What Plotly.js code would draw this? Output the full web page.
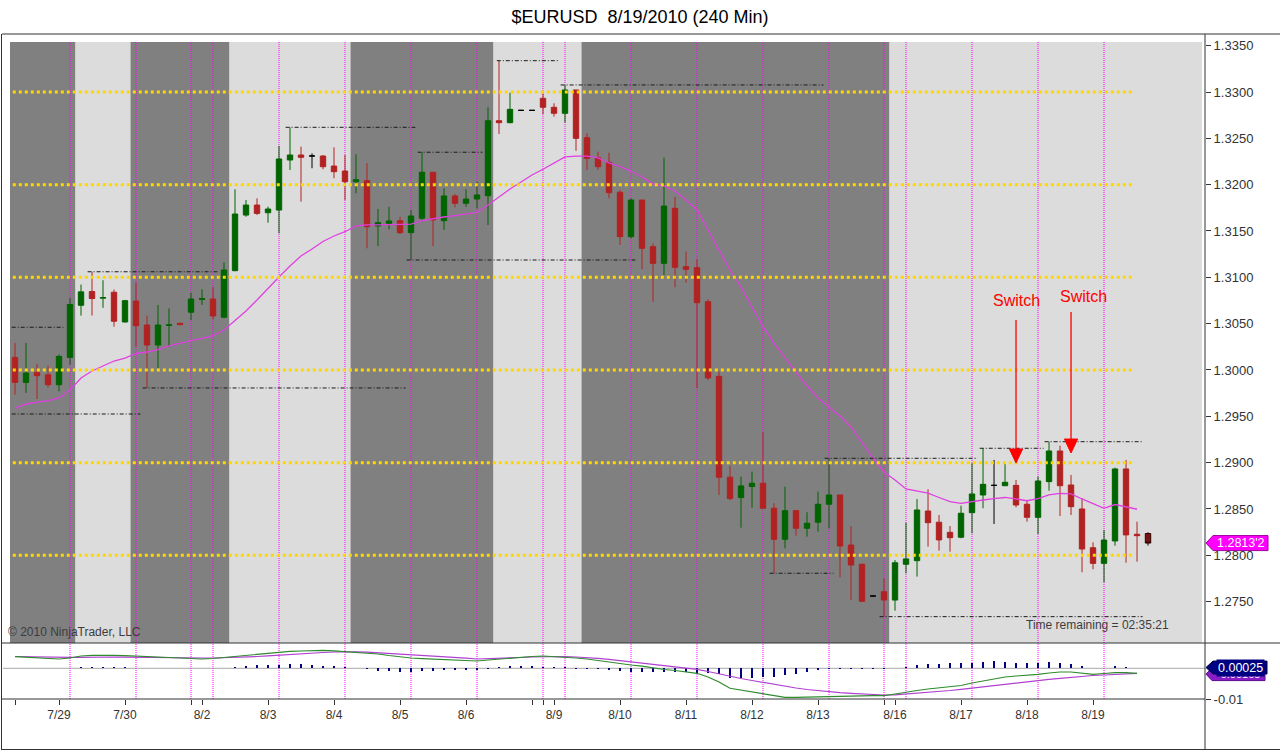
<!DOCTYPE html>
<html><head><meta charset="utf-8">
<script src="https://cdn.plot.ly/plotly-3.0.1.min.js"></script>
<style>html,body{margin:0;padding:0;background:#fff}#chart{width:1280px;height:751px}</style>
</head><body><div id="chart"></div>
<script>
// ---------------- DATA ----------------
const open  = [1.30136,1.29866,1.29974,1.29949,1.29841,1.30136,1.30698,1.30847,1.30775,1.30839,
1.30518,1.30744,1.30485,1.30269,1.30480,1.30504,1.30623,1.30762,1.30766,1.30569,
1.31072,1.31672,1.31780,1.31697,1.31726,1.32266,1.32320,1.32310,1.32309,1.32201,
1.32147,1.32032,1.32043,1.31554,1.31583,1.31611,1.31482,1.31637,1.32134,1.31611,
1.31878,1.31799,1.31845,1.31881,1.32690,1.32669,1.32802,1.32802,1.32932,1.32835,
1.32770,1.33022,1.32507,1.32291,1.32241,1.31918,1.31439,1.31834,1.31331,1.31151,
1.31745,1.31115,1.31104,1.30737,1.29931,1.28843,1.28623,1.28742,1.28778,1.28508,
1.28173,1.28482,1.28292,1.28357,1.28551,1.28651,1.28111,1.27903,1.27561,1.27607,
1.27517,1.27903,1.27942,1.28478,1.28357,1.28248,1.28195,1.28460,1.28651,1.28755,
1.28751,1.28755,1.28551,1.28410,1.28795,1.29126,1.28759,1.28500,1.28082,1.27913,
1.28155,1.28932,1.28227,1.28235];
const high  = [1.30292,1.30292,1.30065,1.30046,1.30166,1.30778,1.30922,1.31060,1.30969,1.30868,
1.30756,1.30940,1.30587,1.30701,1.30665,1.30507,1.30834,1.30871,1.30893,1.31162,
1.31950,1.31834,1.31853,1.31762,1.32417,1.32619,1.32410,1.32338,1.32320,1.32403,
1.32320,1.32328,1.32231,1.31737,1.31762,1.31654,1.31726,1.32350,1.32134,1.31961,
1.31900,1.31950,1.32032,1.32835,1.33338,1.32992,1.32802,1.32802,1.32986,1.32878,
1.33076,1.33022,1.32554,1.32356,1.32345,1.31943,1.31853,1.31834,1.31367,1.32291,
1.31870,1.31277,1.31195,1.30763,1.29985,1.28965,1.28850,1.28903,1.29328,1.28562,
1.28741,1.28482,1.28465,1.28687,1.29047,1.28651,1.28316,1.27910,1.27561,1.27752,
1.27949,1.28352,1.28608,1.28712,1.28435,1.28316,1.28536,1.28995,1.29155,1.29029,
1.28986,1.28813,1.28590,1.28849,1.29226,1.29183,1.28867,1.28615,1.28141,1.28273,
1.28946,1.29029,1.28363,1.28249];
const low   = [1.29733,1.29752,1.29687,1.29812,1.29769,1.30057,1.30587,1.30587,1.30670,1.30467,
1.30511,1.30252,1.29806,1.30022,1.30252,1.30486,1.30539,1.30701,1.30547,1.30558,
1.31065,1.31654,1.31672,1.31589,1.31475,1.32158,1.31816,1.32177,1.32166,1.32069,
1.31834,1.31907,1.31313,1.31338,1.31518,1.31468,1.31187,1.31619,1.31338,1.31511,
1.31756,1.31762,1.31744,1.31565,1.32547,1.32662,1.32802,1.32802,1.32763,1.32734,
1.32669,1.32366,1.32158,1.32158,1.31853,1.31349,1.31421,1.31087,1.30737,1.31025,
1.30893,1.30942,1.29806,1.29892,1.28651,1.28597,1.28298,1.28514,1.28508,1.27806,
1.28075,1.28212,1.28201,1.28255,1.28292,1.27762,1.27517,1.27496,1.27561,1.27338,
1.27402,1.27806,1.27770,1.28093,1.28050,1.28039,1.28184,1.28238,1.28508,1.28338,
1.28751,1.28518,1.28363,1.28230,1.28697,1.28424,1.28435,1.27817,1.27849,1.27709,
1.28104,1.27920,1.27931,1.28104];
const close = [1.29866,1.29968,1.29938,1.29841,1.30147,1.30706,1.30843,1.30771,1.30782,1.30526,
1.30748,1.30478,1.30269,1.30485,1.30487,1.30489,1.30766,1.30770,1.30583,1.31079,
1.31683,1.31780,1.31690,1.31737,1.32277,1.32320,1.32295,1.32310,1.32194,1.32140,
1.32032,1.32054,1.31546,1.31590,1.31608,1.31482,1.31662,1.32134,1.31619,1.31878,
1.31799,1.31845,1.31889,1.32690,1.32669,1.32813,1.32802,1.32802,1.32835,1.32770,
1.33022,1.32500,1.32284,1.32194,1.31913,1.31439,1.31834,1.31313,1.31151,1.31769,
1.31108,1.31087,1.30726,1.29914,1.28843,1.28612,1.28749,1.28778,1.28508,1.28173,
1.28482,1.28292,1.28346,1.28551,1.28651,1.28100,1.27895,1.27504,1.27561,1.27517,
1.27920,1.27961,1.28489,1.28352,1.28166,1.28190,1.28454,1.28662,1.28766,1.28755,
1.28788,1.28543,1.28410,1.28802,1.29126,1.28751,1.28525,1.28068,1.27913,1.28165,
1.28932,1.28220,1.28212,1.28132];
// moving average (magenta)
const movAvg = [1.29586,1.29633,1.29654,1.29669,1.29698,1.29784,1.29913,1.29989,1.30043,1.30097,
1.30129,1.30178,1.30194,1.30221,1.30259,1.30291,1.30318,1.30340,1.30367,1.30432,
1.30539,1.30637,1.30755,1.30885,1.31003,1.31122,1.31230,1.31306,1.31387,1.31446,
1.31492,1.31554,1.31565,1.31565,1.31570,1.31570,1.31575,1.31613,1.31635,1.31651,
1.31667,1.31683,1.31700,1.31780,1.31867,1.31953,1.32029,1.32104,1.32166,1.32234,
1.32299,1.32309,1.32309,1.32288,1.32234,1.32194,1.32147,1.32083,1.32007,1.31986,
1.31932,1.31834,1.31727,1.31511,1.31295,1.31079,1.30896,1.30680,1.30467,1.30291,
1.30129,1.29978,1.29827,1.29698,1.29600,1.29503,1.29385,1.29212,1.29050,1.28899,
1.28813,1.28716,1.28694,1.28672,1.28624,1.28579,1.28561,1.28575,1.28597,1.28611,
1.28624,1.28608,1.28589,1.28611,1.28651,1.28669,1.28662,1.28608,1.28554,1.28507,
1.28548,1.28521,1.28497];
// lower panel
const macdLine = [0.00378,0.00358,0.00335,0.00319,0.00303,0.00335,0.00401,0.00423,0.00433,0.00423,
0.00410,0.00401,0.00391,0.00368,0.00352,0.00335,0.00319,0.00303,0.00319,0.00352,
0.00401,0.00433,0.00466,0.00498,0.00531,0.00554,0.00563,0.00576,0.00586,0.00570,
0.00547,0.00521,0.00498,0.00466,0.00417,0.00368,0.00335,0.00316,0.00296,0.00280,
0.00264,0.00251,0.00238,0.00270,0.00303,0.00335,0.00358,0.00384,0.00401,0.00384,
0.00358,0.00335,0.00303,0.00254,0.00195,0.00140,0.00107,0.00068,0.00010,-0.00039,
-0.00072,-0.00121,-0.00163,-0.00283,-0.00446,-0.00651,-0.00707,-0.00772,-0.00814,-0.00886,
-0.00945,-0.00945,-0.00935,-0.00918,-0.00902,-0.00902,-0.00902,-0.00896,-0.00892,-0.00892,
-0.00837,-0.00772,-0.00723,-0.00674,-0.00642,-0.00609,-0.00560,-0.00479,-0.00414,-0.00332,
-0.00283,-0.00251,-0.00235,-0.00195,-0.00153,-0.00121,-0.00121,-0.00169,-0.00195,-0.00169,
-0.00143,-0.00143,-0.00163];
const signalLine = [0.00384,0.00375,0.00368,0.00362,0.00358,0.00355,0.00358,0.00365,0.00368,0.00368,
0.00362,0.00355,0.00349,0.00342,0.00335,0.00335,0.00335,0.00335,0.00335,0.00342,
0.00352,0.00368,0.00384,0.00407,0.00433,0.00456,0.00482,0.00498,0.00515,0.00531,
0.00541,0.00537,0.00524,0.00505,0.00482,0.00459,0.00433,0.00414,0.00394,0.00375,
0.00352,0.00329,0.00303,0.00309,0.00322,0.00335,0.00352,0.00368,0.00381,0.00388,
0.00384,0.00368,0.00352,0.00326,0.00293,0.00254,0.00221,0.00182,0.00140,0.00091,
0.00049,0.00003,-0.00033,-0.00104,-0.00186,-0.00267,-0.00332,-0.00397,-0.00462,-0.00528,
-0.00593,-0.00642,-0.00690,-0.00733,-0.00772,-0.00795,-0.00814,-0.00837,-0.00853,-0.00870,
-0.00863,-0.00837,-0.00814,-0.00788,-0.00756,-0.00723,-0.00684,-0.00642,-0.00599,-0.00560,
-0.00511,-0.00469,-0.00430,-0.00391,-0.00358,-0.00326,-0.00293,-0.00261,-0.00235,-0.00218,
-0.00195,-0.00179,-0.00163];
const histo = [0.0002,0.0002,0.0002,0.0002,0.0002,0.0002,0.0003,0.0003,0.0003,0.0003,
0.0003,0.0001,0.0002,0.0002,0.0002,0.0002,0.0002,0.0002,0.0002,0.0002,
0.00033,0.00076,0.00098,0.00098,0.00109,0.0013,0.0013,0.00109,0.00076,0.00065,
0.00033,0.0001,-0.00033,-0.00076,-0.00076,-0.00109,-0.0012,-0.00098,-0.00076,-0.00054,
-0.00054,-0.00043,-0.00043,-0.0001,0.00033,0.00065,0.00065,0.00076,0.00054,0.00033,
0.00054,-0.0001,-0.00033,-0.00033,-0.00054,-0.00098,-0.0012,-0.00109,-0.00109,-0.00109,
-0.00109,-0.0013,-0.00141,-0.00163,-0.00196,-0.00304,-0.00326,-0.00304,-0.00293,-0.00272,
-0.00217,-0.00196,-0.0013,-0.00054,-0.00033,-0.00022,-0.00022,-0.00022,-0.00011,-0.00011,
0.0001,0.00043,0.00098,0.0013,0.00152,0.00163,0.00163,0.00185,0.00217,0.00228,
0.00217,0.00185,0.00163,0.00163,0.00196,0.00163,0.0013,0.00076,0.00022,0.00022,
0.00076,0.00033,0.00025];
// x-axis ticks (bar positions) and their labels
const tickPos = [0,4,10,16,17,23,29,35,41,47,48,49,55,61,67,73,79,80,86,92,98];
const tickLab = ['','7/29','7/30','','8/2','8/3','8/4','8/5','8/6','','','8/9','8/10','8/11','8/12','8/13','','8/16','8/17','8/18','8/19'];
const priceTicks = [1.2750,1.2800,1.2850,1.2900,1.2950,1.3000,1.3050,1.3100,1.3150,1.3200,1.3250,1.3300,1.3350];
// session separators (bar positions)
const sessionBars = [5,11,16,18,24,30,36,42,48,50,56,62,68,74,79,81,87,93,99];
// background bands
const bandEdges = [-0.46,5.5,10.5,19.5,30.5,43.5,51.5,79.5,107.9];
const bandDark  = [1,0,1,0,1,0,1,0];
// round-number levels (yellow)
const levels = [1.28,1.29,1.30,1.31,1.32,1.33];
const levelSpan = [-0.2,101.8];
// swing high/low lines
const swingStart = [6.6,-0.3,-0.3,11.6,24.6,35.6,36.6,43.8,49.6,68.6,73.6,87.7,93.6,78.6];
const swingEnd   = [18.4,4.4,11.4,35.5,36.4,56.4,42.5,49.5,73.5,74.4,87.5,93.5,102.5,102.5];
const swingPrice = [1.31060,1.30461,1.29525,1.29806,1.32619,1.31187,1.32350,1.33338,1.33076,1.27806,1.29047,1.29155,1.29226,1.27338];
// "Switch" arrows
const switchBar   = [91,96];
const switchTextX = [91,97.1];
const switchTextY = [1.30755,1.30788];
const arrowTop    = [1.30539,1.30626];
const arrowBase   = [1.29147,1.29255];
const arrowTip    = [1.28996,1.29104];
// right-axis markers
const lastPriceLabel = "1.2813'2";
const histLabel = '0.00025', histLabelVal = 0.00025;
const macdLabel = '-0.00165', macdLabelVal = -0.00190;

// ---------------- CHART ----------------
const W = 1280, H = 751;
const FONT = 'Liberation Sans, Arial, sans-serif';
const px = x => x / W, py = y => (H - y) / H;
const n = open.length;
const idx = open.map((_, i) => i);
const isLast = i => i === n - 1;
const isDoji = i => !isLast(i) && open[i] === close[i];
const isNorm = i => !isLast(i) && !isDoji(i);
const pick = (a, f) => a.filter((_, i) => f(i));
function candle(f, up, dn, lineUp, lineDn){
  return {type:'candlestick', x:pick(idx,f), open:pick(open,f), high:pick(high,f), low:pick(low,f), close:pick(close,f),
    increasing:{line:{color:lineUp,width:1}, fillcolor:up}, decreasing:{line:{color:lineDn,width:1}, fillcolor:dn},
    whiskerwidth:0, hoverinfo:'skip', showlegend:false, xaxis:'x', yaxis:'y'};
}
const traces = [
  candle(isNorm,'#006400','#B22222','#006400','#B22222'),
  candle(isDoji,'#000','#000','#000','#000'),
  candle(isLast,'#7A1414','#7A1414','#300000','#300000'),
  {type:'scatter', mode:'lines', x:idx.slice(0,movAvg.length), y:movAvg, line:{color:'#E040E0', width:1.3}, hoverinfo:'skip', xaxis:'x', yaxis:'y'},
  {type:'bar', x:idx.slice(0,histo.length), y:histo, width:0.22, marker:{color:'#000080', line:{width:0}}, hoverinfo:'skip', xaxis:'x', yaxis:'y2'},
  {type:'scatter', mode:'lines', x:idx.slice(0,signalLine.length), y:signalLine, line:{color:'#B040D0', width:1.2}, hoverinfo:'skip', xaxis:'x', yaxis:'y2'},
  {type:'scatter', mode:'lines', x:idx.slice(0,macdLine.length), y:macdLine, line:{color:'#2E8B2E', width:1.2}, hoverinfo:'skip', xaxis:'x', yaxis:'y2'}
];

const shapes = [];
// bands
for (let k = 0; k < bandDark.length; k++) {
  shapes.push({type:'rect', layer:'below', xref:'x', yref:'paper', x0:bandEdges[k], x1:bandEdges[k+1], y0:py(643), y1:py(42),
    fillcolor: bandDark[k] ? '#808080' : '#DCDCDC', line:{width:0}});
}
// zero line lower panel
shapes.push({type:'line', layer:'below', xref:'paper', yref:'y2', x0:px(3), x1:px(1205), y0:0, y1:0, line:{color:'#A8A8A8', width:1}});
// session separators
sessionBars.forEach(b => shapes.push({type:'line', layer:'below', xref:'x', yref:'paper', x0:b, x1:b, y0:py(699), y1:py(42),
  line:{color:'#FF00FF', width:1, dash:'1px,1px'}}));
// yellow levels
levels.forEach(l => shapes.push({type:'line', layer:'above', xref:'x', yref:'y', x0:levelSpan[0], x1:levelSpan[1], y0:l, y1:l,
  line:{color:'#FFD700', width:3, dash:'3px,3px'}}));
// swing lines
swingPrice.forEach((p, k) => shapes.push({type:'line', layer:'above', xref:'x', yref:'y', x0:swingStart[k], x1:swingEnd[k], y0:p, y1:p,
  line:{color:'#1a1a1a', width:1, dash:'4px,2px,1px,2px'}}));
// red arrows
switchBar.forEach((b, k) => {
  shapes.push({type:'line', layer:'above', xref:'x', yref:'y', x0:b, x1:b, y0:arrowTop[k], y1:arrowBase[k], line:{color:'#FF0000', width:1.3}});
  shapes.push({type:'path', layer:'above', xref:'x', yref:'y',
    path:`M ${b-0.6},${arrowBase[k]} L ${b+0.6},${arrowBase[k]} L ${b},${arrowTip[k]} Z`, fillcolor:'#FF0000', line:{color:'#FF0000', width:1}});
});
// frame lines
const frame = [[2,34,1280,34],[1.5,34,1.5,750],[2,643,1280,643],[2,699,1205,699],[2,749.5,1280,749.5],[1205,34,1205,750]];
frame.forEach(f => shapes.push({type:'line', layer:'above', xref:'paper', yref:'paper', x0:px(f[0]), y0:py(f[1]), x1:px(f[2]), y1:py(f[3]),
  line:{color:'#333', width:1}}));
// right markers (pointer boxes)
function marker(yref, val, halfH, tipX, left, right, fill, border){
  shapes.push({type:'path', layer:'above', xref:'paper', yref:yref,
    path:`M ${px(tipX)},${val} L ${px(left)},${val+halfH} L ${px(right)},${val+halfH} L ${px(right)},${val-halfH} L ${px(left)},${val-halfH} Z`,
    fillcolor:fill, line:{color:border, width:1}});
}
const lastClose = close[n-1];
marker('y', lastClose, 0.00081, 1206, 1213, 1268, '#FF00FF', '#A000A0');
marker('y2', macdLabelVal, 0.0021, 1206, 1212, 1265, '#8A1CC8', '#5a0a90');
marker('y2', histLabelVal, 0.0021, 1206, 1213, 1267, '#000080', '#000040');

const annotations = [
  {xref:'paper', yref:'y', x:px(1240.5), y:lastClose, xanchor:'center', yanchor:'middle', text:lastPriceLabel, showarrow:false, font:{family:FONT, size:12.5, color:'#fff'}},
  {xref:'paper', yref:'y2', x:px(1238.5), y:macdLabelVal, xanchor:'center', yanchor:'middle', text:macdLabel, showarrow:false, font:{family:FONT, size:11, color:'#fff'}},
  {xref:'paper', yref:'y2', x:px(1240), y:histLabelVal, xanchor:'center', yanchor:'middle', text:histLabel, showarrow:false, font:{family:FONT, size:12.5, color:'#fff'}, bgcolor:'#000080'},
  {xref:'paper', yref:'paper', x:px(6), y:py(632), xanchor:'left', yanchor:'middle', text:'© 2010 NinjaTrader, LLC', showarrow:false, font:{family:FONT, size:12, color:'#3c3c3c'}},
  {xref:'paper', yref:'paper', x:px(1097), y:py(625), xanchor:'center', yanchor:'middle', text:'Time remaining = 02:35:21', showarrow:false, font:{family:FONT, size:12, color:'#3c3c3c'}}
];
switchTextX.forEach((x, k) => annotations.push({xref:'x', yref:'y', x:x, y:switchTextY[k], xanchor:'center', yanchor:'middle', text:'Switch', showarrow:false,
  font:{family:FONT, size:16, color:'#FF0000'}}));

const layout = {
  width:W, height:H, margin:{l:0,r:0,t:0,b:0}, paper_bgcolor:'#fff', plot_bgcolor:'rgba(0,0,0,0)',
  showlegend:false, hovermode:false, bargap:0,
  title:{text:'$EURUSD  8/19/2010 (240 Min)', x:0.5, xanchor:'center', y:py(17), yanchor:'middle', font:{family:FONT, size:18, color:'#000'}},
  xaxis:{domain:[px(10), px(1205)], range:[-0.4545, 108.18], anchor:'y2', showgrid:false, zeroline:false, showline:false,
    ticks:'outside', ticklen:5, tickcolor:'#333', tickmode:'array', tickvals:tickPos, ticktext:tickLab,
    tickfont:{family:FONT, size:12, color:'#333'}, rangeslider:{visible:false}, fixedrange:true},
  yaxis:{domain:[py(643), py(42)], range:[1.270536, 1.335396], side:'right', anchor:'x', showgrid:false, zeroline:false, showline:false,
    ticks:'outside', ticklen:5, tickcolor:'#333', tickmode:'array', tickvals:priceTicks, ticktext:priceTicks.map(v => v.toFixed(4)),
    tickfont:{family:FONT, size:13, color:'#333'}, fixedrange:true},
  yaxis2:{domain:[py(699), py(644)], range:[-0.01, 0.007915], side:'right', anchor:'x', showgrid:false, zeroline:false, showline:false,
    ticks:'outside', ticklen:5, tickcolor:'#333', tickmode:'array', tickvals:[-0.01], ticktext:['-0.01'],
    tickfont:{family:FONT, size:13, color:'#333'}, fixedrange:true},
  shapes:shapes, annotations:annotations
};
Plotly.newPlot('chart', traces, layout, {displayModeBar:false, staticPlot:true});
</script></body></html>
